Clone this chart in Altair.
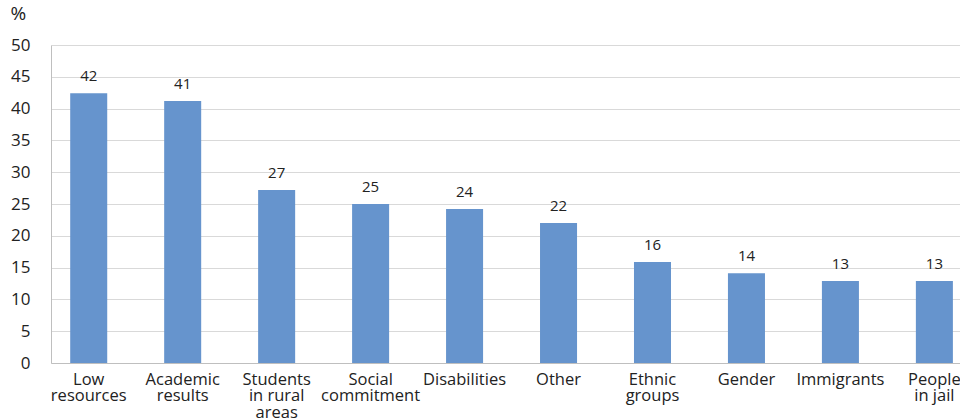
import altair as alt
import pandas as pd

categories = ["Low|resources", "Academic|results", "Students|in rural|areas", "Social|commitment",
              "Disabilities", "Other", "Ethnic|groups", "Gender", "Immigrants", "People|in jail"]
values = [42.4, 41.2, 27.2, 25.0, 24.2, 22.0, 15.9, 14.1, 12.9, 12.9]

df = pd.DataFrame({"cat": categories, "val": values})

FONT = "Open Sans"
x = alt.X("cat:N", sort=None,
          scale=alt.Scale(paddingInner=0.606, paddingOuter=0.14, align=0.73),
          axis=alt.Axis(title=None, labelAngle=0, labelExpr="split(datum.value, '|')",
                        labelFontSize=16.5, labelColor="#222222", labelFont=FONT,
                        labelPadding=8, ticks=False, domainColor="#BFBFBF",
                        labelLineHeight=16.5, labelBaseline="top", labelOverlap=False))
y = alt.Y("val:Q", scale=alt.Scale(domain=[0, 50], nice=False),
          axis=alt.Axis(values=list(range(0, 55, 5)), title="%", titleAngle=0,
                        titleX=-41, titleY=-22, titleAlign="left", titleFontWeight="normal",
                        titleFontSize=19, titleFont=FONT, titleColor="#222222",
                        labelFontSize=17, labelFont=FONT, labelColor="#222222",
                        labelPadding=21, ticks=False, gridColor="#D9D9D9",
                        domainColor="#BFBFBF", labelOverlap=False))

base = alt.Chart(df).encode(x=x, y=y)
bars = base.mark_bar(color="#6694CD")
text = base.mark_text(baseline="bottom", dy=-9, fontSize=15, font=FONT,
                      color="#222222").encode(text=alt.Text("val:Q", format=".0f"))

chart = (bars + text).properties(
    width=909, height=318,
    autosize=alt.AutoSizeParams(type="none"),
    padding={"left": 51, "top": 45, "right": 0, "bottom": 55},
    background="white",
).configure_view(stroke=None)

chart.save("out.html", embed_options={"renderer": "svg", "actions": False})
